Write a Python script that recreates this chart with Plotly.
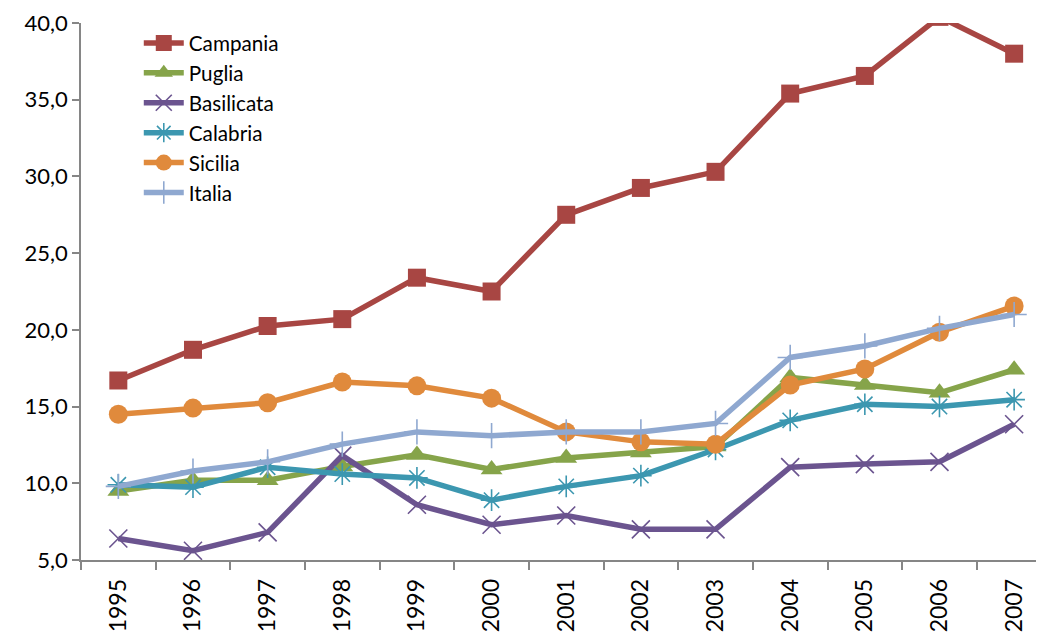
import plotly.graph_objects as go

years = ["1995", "1996", "1997", "1998", "1999", "2000", "2001",
         "2002", "2003", "2004", "2005", "2006", "2007"]

campania = [16.7, 18.7, 20.25, 20.7, 23.4, 22.5, 27.5, 29.25, 30.3, 35.4, 36.55, 40.4, 38.0]
puglia = [9.5, 10.2, 10.2, 11.1, 11.85, 10.9, 11.65, 12.0, 12.4, 16.9, 16.4, 15.9, 17.4]
basilicata = [6.4, 5.6, 6.8, 11.8, 8.6, 7.3, 7.9, 7.0, 7.0, 11.05, 11.25, 11.4, 13.85]
calabria = [9.9, 9.75, 11.05, 10.6, 10.35, 8.9, 9.8, 10.5, 12.2, 14.1, 15.15, 15.0, 15.45]
sicilia = [14.5, 14.9, 15.25, 16.6, 16.35, 15.55, 13.35, 12.7, 12.55, 16.4, 17.45, 19.85, 21.55]
italia = [9.8, 10.8, 11.4, 12.55, 13.35, 13.1, 13.35, 13.35, 13.9, 18.2, 18.95, 20.1, 21.0]

series = [
    ("Campania", campania, "#A84643", "square", 18, 0),
    ("Puglia", puglia, "#86A44A", "triangle-up", 19, 0),
    ("Basilicata", basilicata, "#6B548F", "x-thin-open", 18, 1.6),
    ("Calabria", calabria, "#3C97B0", "asterisk-open", 18, 1.6),
    ("Sicilia", sicilia, "#E08A3C", "circle", 19, 0),
    ("Italia", italia, "#8FA8D0", "cross-thin-open", 18, 1.6),
]

fig = go.Figure()
for name, vals, color, sym, size, mlw in series:
    marker = dict(symbol=sym, size=size, color=color)
    if mlw:
        marker["line"] = dict(color=color, width=mlw)
    fig.add_trace(go.Scatter(
        x=years, y=vals, name=name, mode="lines+markers",
        line=dict(color=color, width=5.5),
        marker=marker,
    ))

# page body adds an 8px offset, so the figure is sized to fill the window
fig.update_layout(
    width=1036, height=629,
    margin=dict(l=73, r=0, t=15, b=77, autoexpand=False),
    paper_bgcolor="white", plot_bgcolor="white",
    separators=",.",
    font=dict(family="Lato, Carlito, Open Sans, sans-serif", color="#000000"),
    showlegend=True,
    legend=dict(
        x=0.06, y=1.0, xanchor="left", yanchor="top",
        bgcolor="rgba(0,0,0,0)", font=dict(size=20.7),
        tracegroupgap=0, itemwidth=40,
    ),
    xaxis=dict(
        type="category", range=[-0.5, 12.4],
        showline=True, linecolor="#868686", linewidth=1.5,
        ticks="outside", ticklen=8, tickcolor="#868686", tickwidth=1.5,
        tickson="boundaries", tickangle=-90, ticklabelstandoff=8,
        showgrid=False, zeroline=False,
        tickfont=dict(size=23),
    ),
    yaxis=dict(
        range=[5, 40], dtick=5, tick0=5, tickformat=".1f",
        showline=True, linecolor="#868686", linewidth=1.5,
        ticks="outside", ticklen=7, tickcolor="#868686", tickwidth=1.5,
        showgrid=False, zeroline=False,
        tickfont=dict(size=22),
    ),
)

fig.write_html("out.html")
